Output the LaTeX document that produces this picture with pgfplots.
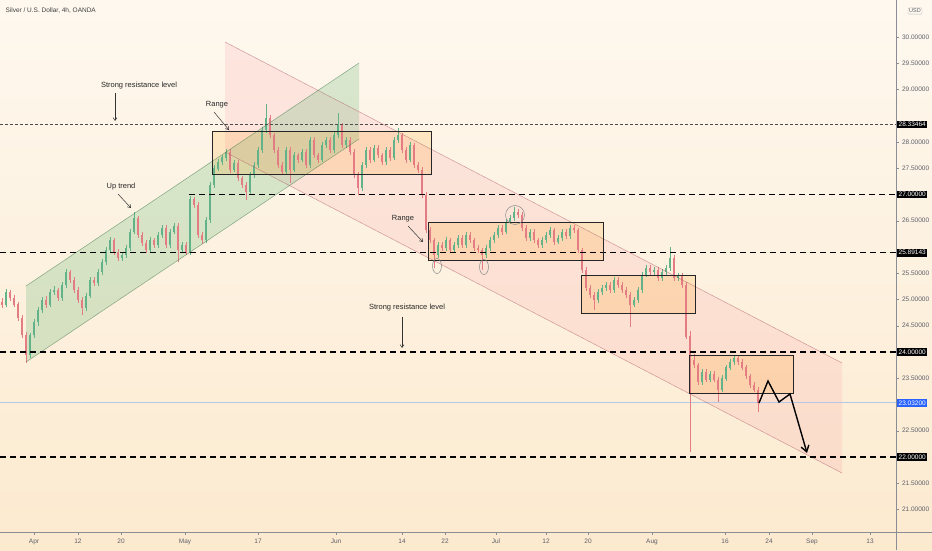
\documentclass[border=0pt]{standalone}
\usepackage{pgfplots}
\pgfplotsset{compat=1.18}
\usepackage{pgfplotstable}
\usepackage{fontspec}
\setmainfont{Liberation Sans}
\usetikzlibrary{arrows.meta}

\definecolor{bgtop}{HTML}{FEF8EF}
\definecolor{bgbot}{HTML}{FCEACF}
\definecolor{upc}{HTML}{62B28A}
\definecolor{dnc}{HTML}{E47C84}
\definecolor{chgreen}{HTML}{64B874}
\definecolor{chred}{HTML}{F7788C}
\definecolor{boxfill}{HTML}{FF9800}
\definecolor{axgray}{HTML}{8A8D96}
\definecolor{ticktext}{HTML}{5D606B}
\definecolor{lastblue}{HTML}{2962FF}
\definecolor{lastline}{HTML}{B7C7E6}

% pixel row of the reference -> price
\newcommand{\py}[1]{24+(352-#1)/52.5}

% 4h candles, x = horizontal position on the chart
\pgfplotstableread{
x o h l c
2 24.95 25.02 24.84 24.90
6 24.90 25.20 24.86 25.14
10 25.14 25.18 24.98 25.03
14 25.03 25.08 24.85 24.90
18 24.90 24.95 24.60 24.65
22 24.65 24.70 24.27 24.32
26 24.32 24.38 23.79 23.94
30 23.94 24.37 23.88 24.32
34 24.32 24.63 24.27 24.57
38 24.57 24.86 24.50 24.80
42 24.80 25.05 24.75 24.99
46 24.99 25.06 24.84 24.90
50 24.90 25.20 24.85 25.14
54 25.14 25.25 25.08 25.18
58 25.18 25.22 24.97 25.03
62 25.03 25.34 24.98 25.28
66 25.28 25.58 25.22 25.52
70 25.52 25.57 25.31 25.37
74 25.37 25.42 25.12 25.18
78 25.18 25.24 24.93 24.99
82 24.99 25.05 24.70 24.84
86 24.84 25.12 24.79 25.07
90 25.07 25.43 25.02 25.37
94 25.37 25.42 25.25 25.31
98 25.31 25.58 25.26 25.52
102 25.52 25.77 25.47 25.71
106 25.71 26.00 25.66 25.94
110 25.94 26.19 25.88 26.13
114 26.13 26.18 25.84 25.90
118 25.90 25.96 25.73 25.79
122 25.79 25.91 25.74 25.85
126 25.85 26.04 25.80 25.98
130 25.98 26.35 25.93 26.29
134 26.29 26.67 26.24 26.55
138 26.55 26.60 26.17 26.23
142 26.23 26.28 26.02 26.08
146 26.08 26.13 25.88 25.94
150 25.94 26.19 25.89 26.13
154 26.13 26.18 25.98 26.04
158 26.04 26.29 25.99 26.23
162 26.23 26.42 26.18 26.36
166 26.36 26.41 25.98 26.04
170 26.04 26.35 25.99 26.29
174 26.29 26.46 26.24 26.40
178 26.40 26.45 25.71 25.94
182 25.94 26.10 25.88 26.04
186 26.04 26.09 25.84 25.90
190 25.90 26.97 25.85 26.90
194 26.90 26.96 26.74 26.80
198 26.80 26.85 26.17 26.23
202 26.23 26.29 26.06 26.13
206 26.13 26.57 26.08 26.51
210 26.51 27.24 26.46 27.18
214 27.18 27.56 27.12 27.50
218 27.50 27.68 27.44 27.62
222 27.62 27.76 27.56 27.70
226 27.70 27.87 27.64 27.81
230 27.81 27.86 27.41 27.47
234 27.47 27.66 27.42 27.60
238 27.60 27.65 27.25 27.31
242 27.31 27.36 27.12 27.18
246 27.18 27.23 26.90 27.05
250 27.05 27.43 27.00 27.37
254 27.37 27.62 27.31 27.56
258 27.56 27.91 27.50 27.85
262 27.85 28.29 27.80 28.23
266 28.23 28.72 28.17 28.46
270 28.46 28.52 28.07 28.13
274 28.13 28.18 27.79 27.85
278 27.85 27.90 27.50 27.56
282 27.56 27.61 27.37 27.43
286 27.43 27.91 27.38 27.85
290 27.85 27.90 27.22 27.47
294 27.47 27.81 27.42 27.75
298 27.75 27.80 27.60 27.66
302 27.66 27.87 27.61 27.81
306 27.81 27.86 27.50 27.56
310 27.56 28.10 27.51 28.04
314 28.04 28.09 27.69 27.75
318 27.75 27.80 27.60 27.66
322 27.66 28.00 27.61 27.94
326 27.94 28.10 27.89 28.04
330 28.04 28.09 27.79 27.85
334 27.85 28.19 27.80 28.13
338 28.13 28.55 28.08 28.32
342 28.32 28.37 27.88 27.94
346 27.94 28.10 27.89 28.04
350 28.04 28.09 27.75 27.81
354 27.81 27.86 27.31 27.37
358 27.37 27.42 26.99 27.12
362 27.12 27.62 27.07 27.56
366 27.56 27.91 27.51 27.85
370 27.85 27.90 27.60 27.66
374 27.66 27.95 27.61 27.89
378 27.89 27.94 27.69 27.75
382 27.75 27.80 27.56 27.62
386 27.62 27.91 27.57 27.85
390 27.85 27.90 27.64 27.70
394 27.70 28.10 27.65 28.04
398 28.04 28.27 27.99 28.13
402 28.13 28.18 27.79 27.85
406 27.85 27.90 27.60 27.66
410 27.66 28.00 27.61 27.94
414 27.94 27.99 27.50 27.56
418 27.56 27.61 27.41 27.47
422 27.47 27.52 26.93 26.99
426 26.99 27.04 26.26 26.32
430 26.32 26.38 26.07 26.13
434 26.13 26.18 25.60 25.85
438 25.85 26.10 25.80 26.04
442 26.04 26.09 25.92 25.98
446 25.98 26.19 25.93 26.13
450 26.13 26.18 25.88 25.94
454 25.94 26.10 25.89 26.04
458 26.04 26.23 25.99 26.17
462 26.17 26.22 25.98 26.04
466 26.04 26.29 25.99 26.23
470 26.23 26.28 26.07 26.13
474 26.13 26.18 25.92 25.98
478 25.98 26.03 25.88 25.94
482 25.94 25.99 25.56 25.85
486 25.85 26.04 25.80 25.98
490 25.98 26.19 25.93 26.13
494 26.13 26.29 26.08 26.23
498 26.23 26.42 26.18 26.36
502 26.36 26.41 26.23 26.29
506 26.29 26.54 26.24 26.48
510 26.48 26.61 26.43 26.55
514 26.55 26.76 26.50 26.67
518 26.67 26.72 26.55 26.61
522 26.61 26.66 26.30 26.36
526 26.36 26.41 26.11 26.17
530 26.17 26.35 26.12 26.29
534 26.29 26.34 26.07 26.13
538 26.13 26.18 25.98 26.04
542 26.04 26.19 25.99 26.13
546 26.13 26.29 26.08 26.23
550 26.23 26.38 26.18 26.32
554 26.32 26.37 26.04 26.10
558 26.10 26.23 26.05 26.17
562 26.17 26.35 26.12 26.29
566 26.29 26.34 26.15 26.21
570 26.21 26.42 26.16 26.36
574 26.36 26.41 26.26 26.32
578 26.32 26.37 25.88 25.94
582 25.94 25.99 25.50 25.56
586 25.56 25.61 25.16 25.22
590 25.22 25.27 25.03 25.09
594 25.09 25.14 24.80 24.99
598 24.99 25.20 24.94 25.14
602 25.14 25.28 25.09 25.22
606 25.22 25.34 25.17 25.28
610 25.28 25.33 25.12 25.18
614 25.18 25.43 25.13 25.37
618 25.37 25.42 25.22 25.28
622 25.28 25.33 25.12 25.18
626 25.18 25.23 25.03 25.09
630 25.09 25.14 24.48 24.90
634 24.90 25.05 24.85 24.99
638 24.99 25.24 24.94 25.18
642 25.18 25.53 25.13 25.47
646 25.47 25.66 25.42 25.60
650 25.60 25.65 25.46 25.52
654 25.52 25.62 25.47 25.56
658 25.56 25.61 25.35 25.41
662 25.41 25.58 25.36 25.52
666 25.52 25.66 25.47 25.60
670 25.60 26.00 25.55 25.79
674 25.79 25.84 25.35 25.41
678 25.41 25.51 25.36 25.45
682 25.45 25.50 25.22 25.28
686 25.28 25.33 24.24 24.30
690 24.30 24.40 22.10 23.85
694 23.85 23.96 23.70 23.75
698 23.75 23.80 23.38 23.43
702 23.43 23.68 23.38 23.62
706 23.62 23.67 23.42 23.47
710 23.47 23.64 23.42 23.58
714 23.58 23.63 23.42 23.47
718 23.47 23.52 23.05 23.28
722 23.28 23.56 23.23 23.50
726 23.50 23.76 23.45 23.70
730 23.70 23.87 23.65 23.81
734 23.81 23.94 23.76 23.89
738 23.89 23.94 23.76 23.81
742 23.81 23.86 23.65 23.70
746 23.70 23.75 23.49 23.54
750 23.54 23.59 23.32 23.37
754 23.37 23.42 23.23 23.28
758 23.28 23.33 22.86 23.03
}\candles

\begin{document}
\begin{tikzpicture}
\useasboundingbox (0,0) rectangle (932pt,550pt);
\shade[top color=bgtop, bottom color=bgbot] (0,0) rectangle (932pt,550pt);

\begin{axis}[
    at={(0pt,18pt)}, anchor=south west,
    scale only axis, width=896pt, height=532pt,
    xmin=0, xmax=896, ymin=20.5714, ymax=30.7048,
    axis x line*=bottom, axis y line*=right,
    axis line style={draw=axgray, line width=0.6pt},
    xtick={34,78,121,185,258,336,402,445,496,546,588,652,725,769,812,870},
    xticklabels={Apr,12,20,May,17,Jun,14,22,Jul,12,20,Aug,16,24,Sep,13},
    % levels hidden behind the price tags (24, 27) and the USD label (30.5) are left out
    ytick={21,21.5,22.5,23.5,24.5,25,25.5,26.5,27.5,28,29,29.5,30},
    tick style={draw=axgray, line width=0.5pt},
    major tick length=2.5pt, tick align=outside,
    tick label style={font=\fontsize{6.5}{7}\selectfont, text=ticktext},
    yticklabel style={/pgf/number format/.cd, fixed, fixed zerofill, precision=5, assume math mode=true},
    xticklabel style={yshift=-1pt},
]

% channels
\fill[chred, fill opacity=0.13] (axis cs:225,{\py{42}}) -- (axis cs:842,{\py{363}}) -- (axis cs:842,{\py{473}}) -- (axis cs:225,{\py{152}}) -- cycle;
\fill[chgreen, fill opacity=0.25] (axis cs:26,{\py{286}}) -- (axis cs:359,{\py{63}}) -- (axis cs:359,{\py{139}}) -- (axis cs:26,{\py{362}}) -- cycle;

% range boxes (fill)
\fill[boxfill, fill opacity=0.16] (axis cs:212,{\py{131}}) rectangle (axis cs:431,{\py{174}});
\fill[boxfill, fill opacity=0.16] (axis cs:428,{\py{222}}) rectangle (axis cs:603,{\py{260}});
\fill[boxfill, fill opacity=0.16] (axis cs:581,{\py{275}}) rectangle (axis cs:695,{\py{313}});
\fill[boxfill, fill opacity=0.16] (axis cs:689,{\py{355}}) rectangle (axis cs:793,{\py{393}});

% last price line
\draw[lastline, line width=0.8pt] (axis cs:0,23.032) -- (axis cs:896,23.032);

% candles: wicks then bodies
\addplot[draw=none, forget plot, error bars/.cd, y dir=both, y explicit, error mark=none,
    error bar style={draw=upc, line width=0.7pt}]
    table[x=x, y expr={\thisrow{c}>=\thisrow{o} ? (\thisrow{h}+\thisrow{l})/2 : nan},
          y error expr={(\thisrow{h}-\thisrow{l})/2}] {\candles};
\addplot[draw=none, forget plot, error bars/.cd, y dir=both, y explicit, error mark=none,
    error bar style={draw=dnc, line width=0.7pt}]
    table[x=x, y expr={\thisrow{c}<\thisrow{o} ? (\thisrow{h}+\thisrow{l})/2 : nan},
          y error expr={(\thisrow{h}-\thisrow{l})/2}] {\candles};
\addplot[draw=none, forget plot, error bars/.cd, y dir=both, y explicit, error mark=none,
    error bar style={draw=upc, line width=2.2pt}]
    table[x=x, y expr={\thisrow{c}>=\thisrow{o} ? (\thisrow{o}+\thisrow{c})/2 : nan},
          y error expr={abs(\thisrow{c}-\thisrow{o})/2+0.005}] {\candles};
\addplot[draw=none, forget plot, error bars/.cd, y dir=both, y explicit, error mark=none,
    error bar style={draw=dnc, line width=2.2pt}]
    table[x=x, y expr={\thisrow{c}<\thisrow{o} ? (\thisrow{o}+\thisrow{c})/2 : nan},
          y error expr={abs(\thisrow{c}-\thisrow{o})/2+0.005}] {\candles};

% channel edges
\draw[black!30!chred, draw opacity=0.55, line width=0.5pt] (axis cs:225,{\py{42}}) -- (axis cs:842,{\py{363}});
\draw[black!30!chred, draw opacity=0.55, line width=0.5pt] (axis cs:225,{\py{152}}) -- (axis cs:842,{\py{473}});
\draw[black!35!chgreen, draw opacity=0.6, line width=0.5pt] (axis cs:26,{\py{286}}) -- (axis cs:359,{\py{63}});
\draw[black!35!chgreen, draw opacity=0.6, line width=0.5pt] (axis cs:26,{\py{362}}) -- (axis cs:359,{\py{139}});

% horizontal levels
\draw[black!70, line width=0.8pt, dash pattern=on 2.5pt off 2.5pt] (axis cs:0,28.33464) -- (axis cs:896,28.33464);
\draw[black, line width=1.3pt, dash pattern=on 6pt off 4pt] (axis cs:189,27) -- (axis cs:896,27);
\draw[black, line width=1.3pt, dash pattern=on 6pt off 4pt] (axis cs:0,25.89143) -- (axis cs:896,25.89143);
\draw[black, line width=1.3pt, dash pattern=on 6pt off 4pt] (axis cs:0,24) -- (axis cs:896,24);
\draw[black, line width=1.3pt, dash pattern=on 6pt off 4pt] (axis cs:0,22) -- (axis cs:896,22);

% range box outlines
\draw[black!85, line width=0.7pt] (axis cs:212,{\py{131}}) rectangle (axis cs:431,{\py{174}});
\draw[black!85, line width=0.7pt] (axis cs:428,{\py{222}}) rectangle (axis cs:603,{\py{260}});
\draw[black!85, line width=0.7pt] (axis cs:581,{\py{275}}) rectangle (axis cs:695,{\py{313}});
\draw[black!85, line width=0.7pt] (axis cs:689,{\py{355}}) rectangle (axis cs:793,{\py{393}});

% marked swings
\draw[black!45, line width=0.5pt] (axis cs:437,{\py{266}}) ellipse [x radius=4.5pt, y radius=7.5pt];
\draw[black!45, line width=0.5pt] (axis cs:484,{\py{267}}) ellipse [x radius=4.5pt, y radius=7.5pt];
\draw[black!45, line width=0.5pt] (axis cs:515,{\py{215}}) circle [radius=9.5pt];

% projected path
\draw[black, line width=1.4pt, line join=miter, -{Straight Barb[length=6pt, width=8pt]}]
    (axis cs:759,{\py{403}}) -- (axis cs:768,{\py{381}}) -- (axis cs:779,{\py{402}}) -- (axis cs:790,{\py{394}}) -- (axis cs:807,{\py{453}});

% annotations
\begin{scope}[every node/.style={font=\fontsize{7.5}{9}\selectfont, text=black!85}]
\node at (axis cs:139,{\py{86}}) {Strong resistance level};
\node at (axis cs:217,{\py{105}}) {Range};
\node at (axis cs:121,{\py{187}}) {Up trend};
\node at (axis cs:403,{\py{219}}) {Range};
\node at (axis cs:407,{\py{308}}) {Strong resistance level};
\end{scope}
\begin{scope}[black!80, line width=0.5pt, -{Straight Barb[length=3pt, width=4pt]}]
\draw (axis cs:115,{\py{93}}) -- (axis cs:115,{\py{121}});
\draw (axis cs:214,{\py{112}}) -- (axis cs:229,{\py{130}});
\draw (axis cs:118,{\py{194}}) -- (axis cs:131,{\py{208}});
\draw (axis cs:408,{\py{226}}) -- (axis cs:423,{\py{242}});
\draw (axis cs:402,{\py{317}}) -- (axis cs:402,{\py{348}});
\end{scope}
\end{axis}

% axis lines running through the whole frame
\draw[axgray, line width=0.6pt] (896pt,0) -- (896pt,550pt);
\draw[axgray, line width=0.6pt] (0,18pt) -- (932pt,18pt);

% title and currency
\node[anchor=west, font=\fontsize{6.5}{8}\selectfont, text=black!75] at (2pt,539pt) {Silver / U.S. Dollar, 4h, OANDA};
\node[draw=black!25, fill=bgtop, rounded corners=1pt, font=\fontsize{5.5}{6}\selectfont, text=ticktext, inner sep=1.2pt] at (915pt,539pt) {USD};

% price tags
\begin{scope}[every node/.style={anchor=west, fill=black, text=white, font=\fontsize{6.5}{7}\selectfont, inner xsep=1.5pt, inner ysep=1.5pt}]
\node at (897pt,425.6pt) {28.33464};
\node at (897pt,355.5pt) {27.00000};
\node at (897pt,297.3pt) {25.89143};
\node at (897pt,198pt) {24.00000};
\node at (897pt,93pt) {22.00000};
\node[fill=lastblue] at (897pt,147.2pt) {23.03200};
\end{scope}
\end{tikzpicture}
\end{document}
